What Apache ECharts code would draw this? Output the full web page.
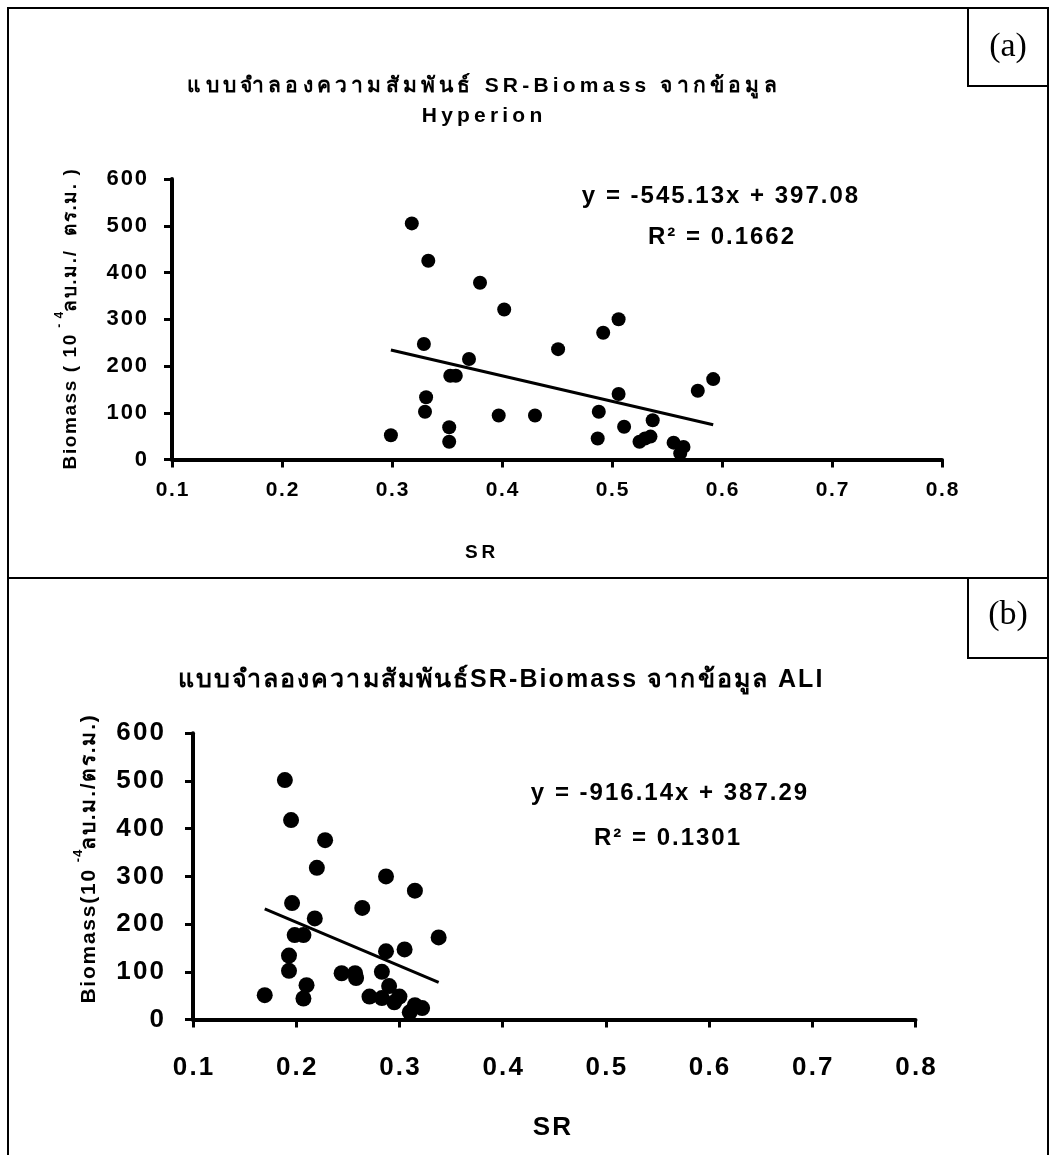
<!DOCTYPE html>
<html>
<head>
<meta charset="utf-8">
<script src="https://cdn.jsdelivr.net/npm/echarts@6/dist/echarts.min.js"></script>
<style>
html,body{margin:0;padding:0;background:#fff;}
#chart{width:1056px;height:1155px;}
</style>
</head>
<body>
<div id="chart"></div>
<script>
// ---- data ----
const srHyperion  = [0.299,0.318,0.329,0.330,0.331,0.333,0.352,0.352,0.353,0.358,0.370,0.380,0.397,0.402,0.430,0.451,0.487,0.488,0.492,0.506,0.506,0.511,0.525,0.530,0.535,0.537,0.556,0.562,0.565,0.578,0.592];
const bioHyperion = [52,505,247,102,133,425,69,38,179,179,215,378,94,321,94,236,45,102,271,300,140,70,38,45,49,84,36,13,27,147,172];
const srALI  = [0.189,0.195,0.228,0.220,0.287,0.315,0.196,0.264,0.218,0.1985,0.207,0.338,0.305,0.287,0.193,0.193,0.283,0.244,0.257,0.258,0.210,0.1695,0.207,0.271,0.290,0.283,0.295,0.300,0.310,0.315,0.322];
const bioALI = [502,418,376,318,300,270,244,234,212,177,177,172,147,143,134,102,100,97,97,87,72,51,44,48,70,45,36,48,15,30,24];
const fitHyperion = [-545.13, 397.08];   // slope, intercept
const fitALI      = [-916.14, 387.29];
const r2Hyperion = '0.1662';
const r2ALI = '0.1301';
const xTickLabels = ['0.1','0.2','0.3','0.4','0.5','0.6','0.7','0.8'];
const yTickLabels = ['0','100','200','300','400','500','600'];
const titleHyperion = ['แบบจำลองความสัมพันธ์ SR-Biomass จากข้อมูล', 'Hyperion'];
const titleALI = 'แบบจำลองความสัมพันธ์SR-Biomass จากข้อมูล ALI';

// ---- helpers ----
const FONT = '"Liberation Sans", Arial, "DejaVu Sans", sans-serif';
const THIN = '\u2009', HAIR = '\u200A';
const seg = (typeof Intl !== 'undefined' && Intl.Segmenter) ? new Intl.Segmenter('th', {granularity: 'grapheme'}) : null;
function spaced(s, ch) {
  const parts = seg ? Array.from(seg.segment(s), x => x.segment) : Array.from(s);
  return parts.join(ch);
}
function pts(xs, ys) { return xs.map((x, i) => [x, ys[i]]); }
function fitLine(xs, fit) {
  const lo = Math.min.apply(null, xs), hi = Math.max.apply(null, xs);
  return [[lo, fit[0] * lo + fit[1]], [hi, fit[0] * hi + fit[1]]];
}

function xAxisCfg(gi, fs, ch, margin) {
  return {
    type: 'value', gridIndex: gi, min: 0.1, max: 0.8, interval: 0.1,
    splitLine: {show: false},
    axisLine: {show: true, onZero: false, lineStyle: {color: '#000', width: 4}},
    axisTick: {show: true, length: 8, lineStyle: {color: '#000', width: 3}},
    axisLabel: {
      margin: margin, color: '#000', fontFamily: FONT, fontWeight: 'bold', fontSize: fs,
      formatter: v => spaced(xTickLabels[Math.round((v - 0.1) * 10)] || v.toFixed(1), ch)
    }
  };
}
function yAxisCfg(gi, fs, ch, margin, nameRich, nameGap, namePad) {
  return {
    type: 'value', gridIndex: gi, min: 0, max: 600, interval: 100,
    splitLine: {show: false},
    axisLine: {show: true, lineStyle: {color: '#000', width: 4}},
    axisTick: {show: true, length: 8, lineStyle: {color: '#000', width: 3}},
    axisLabel: {
      margin: margin, color: '#000', fontFamily: FONT, fontWeight: 'bold', fontSize: fs,
      formatter: v => spaced(yTickLabels[Math.round(v / 100)] || String(v), ch)
    },
    name: nameRich.text, nameLocation: 'middle', nameRotate: 90, nameGap: nameGap,
    nameTextStyle: {color: '#000', fontFamily: FONT, fontWeight: 'bold', fontSize: nameRich.fs, rich: nameRich.rich, padding: namePad}
  };
}

const nameTop = {
  fs: 19,
  text: '{b|' + spaced('Biomass ( 10 ', HAIR) + '}{s|' + spaced('- 4', HAIR) + '}{b|' + spaced('ลบ.ม./  ตร.ม. )', HAIR) + '}',
  rich: {
    b: {fontSize: 19, fontWeight: 'bold', fontFamily: FONT, color: '#000', lineHeight: 26, verticalAlign: 'bottom'},
    s: {fontSize: 12, fontWeight: 'bold', fontFamily: FONT, color: '#000', lineHeight: 26, verticalAlign: 'top'}
  }
};
const nameBot = {
  fs: 21,
  text: '{b|' + spaced('Biomass(10 ', HAIR) + '}{s|' + spaced('-4', HAIR) + '}{b|' + spaced('ลบ.ม./ตร.ม.)', HAIR) + '}',
  rich: {
    b: {fontSize: 21, fontWeight: 'bold', fontFamily: FONT, color: '#000', lineHeight: 28, verticalAlign: 'bottom'},
    s: {fontSize: 13, fontWeight: 'bold', fontFamily: FONT, color: '#000', lineHeight: 28, verticalAlign: 'top'}
  }
};

function txt(x, y, text, fs, ch, extra) {
  return Object.assign({
    type: 'text', x: x, y: y, silent: true,
    style: {text: spaced(text, ch), fill: '#000', font: 'bold ' + fs + 'px ' + FONT, align: 'center', verticalAlign: 'middle'}
  }, extra || {});
}

const chart = echarts.init(document.getElementById('chart'), null, {renderer: 'canvas'});
const option = {
  backgroundColor: '#fff',
  animation: false,
  grid: [
    {left: 172, top: 179, width: 770, height: 280.5},
    {left: 193, top: 733.3, width: 722.5, height: 286.2}
  ],
  xAxis: [xAxisCfg(0, 21, HAIR, 20), xAxisCfg(1, 26, HAIR, 35)],
  yAxis: [yAxisCfg(0, 22, HAIR, 25, nameTop, 92, [0, 0, 0, 0]), yAxisCfg(1, 26, HAIR, 29, nameBot, 93, [0, 0, 0, 34])],
  series: [
    {type: 'line', xAxisIndex: 0, yAxisIndex: 0, data: fitLine(srHyperion, fitHyperion), symbol: 'none',
     lineStyle: {color: '#000', width: 3}, z: 3},
    {type: 'scatter', xAxisIndex: 0, yAxisIndex: 0, data: pts(srHyperion, bioHyperion), symbol: 'circle', symbolSize: 14,
     itemStyle: {color: '#000', opacity: 1}, z: 4},
    {type: 'line', xAxisIndex: 1, yAxisIndex: 1, data: fitLine(srALI, fitALI), symbol: 'none',
     lineStyle: {color: '#000', width: 3}, z: 3},
    {type: 'scatter', xAxisIndex: 1, yAxisIndex: 1, data: pts(srALI, bioALI), symbol: 'circle', symbolSize: 16,
     itemStyle: {color: '#000', opacity: 1}, z: 4}
  ],
  graphic: [
    {type: 'rect', shape: {x: 8, y: 8, width: 1040, height: 570}, style: {fill: 'none', stroke: '#000', lineWidth: 2}, silent: true},
    {type: 'rect', shape: {x: 8, y: 578, width: 1040, height: 600}, style: {fill: 'none', stroke: '#000', lineWidth: 2}, silent: true},
    {type: 'rect', shape: {x: 968, y: 8, width: 80, height: 78}, style: {fill: '#fff', stroke: '#000', lineWidth: 2}, silent: true},
    {type: 'rect', shape: {x: 968, y: 578, width: 80, height: 80}, style: {fill: '#fff', stroke: '#000', lineWidth: 2}, silent: true},
    {type: 'text', x: 1008, y: 47, silent: true, style: {text: '(a)', fill: '#000', font: '34px "Liberation Serif", "DejaVu Serif", serif', align: 'center', verticalAlign: 'middle'}},
    {type: 'text', x: 1008, y: 615, silent: true, style: {text: '(b)', fill: '#000', font: '34px "Liberation Serif", "DejaVu Serif", serif', align: 'center', verticalAlign: 'middle'}},
    txt(482, 86, titleHyperion[0], 21, THIN),
    txt(482, 116, titleHyperion[1], 21, THIN),
    txt(500, 680, titleALI, 25, HAIR),
    txt(720, 196, 'y = ' + fitHyperion[0].toFixed(2) + 'x + ' + fitHyperion[1].toFixed(2), 24, HAIR),
    txt(721, 237, 'R² = ' + r2Hyperion, 24, HAIR),
    txt(669, 793, 'y = ' + fitALI[0].toFixed(2) + 'x + ' + fitALI[1].toFixed(2), 24, HAIR),
    txt(667, 838, 'R² = ' + r2ALI, 24, HAIR),
    txt(480, 553, 'SR', 19, THIN),
    txt(552, 1128, 'SR', 26, HAIR)
  ]
};
chart.setOption(option);
</script>
</body>
</html>
